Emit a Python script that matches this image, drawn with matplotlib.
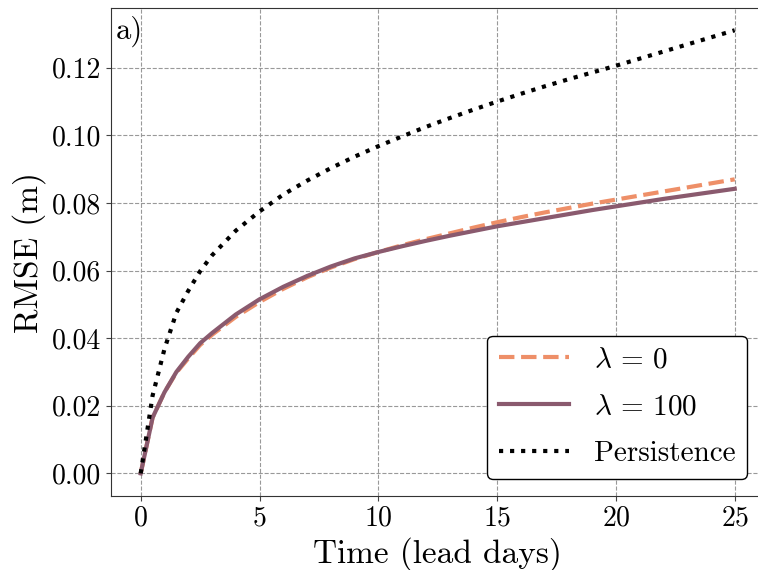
import matplotlib
matplotlib.use('Agg')
import matplotlib.pyplot as plt
import numpy as np

plt.rcParams['font.family'] = 'cmr10'
plt.rcParams['mathtext.fontset'] = 'cm'
plt.rcParams['axes.formatter.use_mathtext'] = True

# lead time (days)
lead_days = [0, 0.5, 1, 1.5, 2, 2.5, 3, 4, 5, 6, 7, 8, 9, 10, 11, 12, 13,
             14, 15, 16, 17, 18, 19, 20, 21, 22, 23, 24, 25]

rmse_lam0 = [0.0, 0.0165, 0.024, 0.0298, 0.034, 0.038, 0.041, 0.0463, 0.0507,
             0.0546, 0.058, 0.0609, 0.0634, 0.0655, 0.0675, 0.0693, 0.071,
             0.0727, 0.0743, 0.0758, 0.0772, 0.0785, 0.0798, 0.081, 0.0822,
             0.0834, 0.0846, 0.0858, 0.087]

rmse_lam100 = [0.0, 0.0165, 0.024, 0.030, 0.0345, 0.0385, 0.0415, 0.047, 0.0515,
               0.0552, 0.0584, 0.0612, 0.0636, 0.0655, 0.0672, 0.0688, 0.0703,
               0.0717, 0.0731, 0.0743, 0.0755, 0.0767, 0.0779, 0.079, 0.0801,
               0.0812, 0.0822, 0.0832, 0.0842]

rmse_persist = [0.0, 0.023, 0.0368, 0.0475, 0.054, 0.0598, 0.0645, 0.0718, 0.0775,
                0.0825, 0.0866, 0.0903, 0.0937, 0.0968, 0.0997, 0.1025, 0.1051,
                0.1076, 0.11, 0.1123, 0.1145, 0.1166, 0.1186, 0.1206, 0.1227,
                0.1248, 0.1269, 0.129, 0.1311]

fig = plt.figure(figsize=(7.58, 5.7), dpi=100)
# right spine falls just outside the saved image, as in the original
ax = fig.add_axes([111 / 758, 74.3 / 570, 653.4 / 758, 487.4 / 570])

ax.plot(lead_days, rmse_lam0, linestyle='--', color='#ee8f68', linewidth=3, label=r'$\lambda \,=\, 0$')
ax.plot(lead_days, rmse_lam100, linestyle='-', color='#8a5a6e', linewidth=3, label=r'$\lambda \,=\, 100$')
ax.plot(lead_days, rmse_persist, linestyle=':', color='black', linewidth=3, label='Persistence')

ax.set_xlim(-1.25, 26.25)
ax.set_ylim(-0.0066, 0.1376)
ax.set_xticks([0, 5, 10, 15, 20, 25])
ax.set_yticks(np.arange(0, 0.121, 0.02))
ax.yaxis.set_major_formatter(matplotlib.ticker.FormatStrFormatter('%.2f'))
ax.tick_params(labelsize=20, color='#444444')
for s in ax.spines.values():
    s.set_color('#333333')

ax.grid(linestyle='--', color='#999999', linewidth=0.8)
ax.set_axisbelow(True)

ax.set_xlabel('Time (lead days)', fontsize=24)
ax.set_ylabel('RMSE (m)', fontsize=24)
ax.text(0.008, 0.985, 'a)', transform=ax.transAxes, fontsize=22, va='top', ha='left')

leg = ax.legend(loc='lower right', bbox_to_anchor=(0.9734, 0.0343), borderaxespad=0,
                fontsize=21, handlelength=2.4, handletextpad=0.85, labelspacing=0.7,
                framealpha=1, edgecolor='black', fancybox=True)

fig.savefig('out.png', dpi=100)
